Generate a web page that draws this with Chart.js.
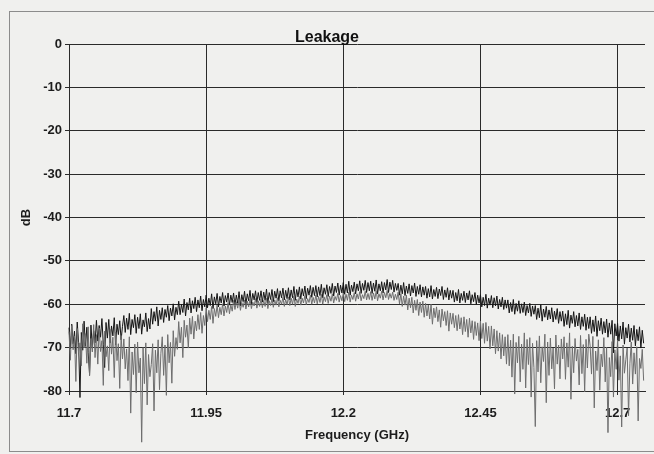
<!DOCTYPE html>
<html>
<head>
<meta charset="utf-8">
<script src="https://cdn.jsdelivr.net/npm/chart.js@4/dist/chart.umd.min.js"></script>
<style>
  html, body { margin: 0; padding: 0; background: #f0f0ee; }
  #wrap { width: 654px; height: 454px; }
</style>
</head>
<body>
<div id="wrap"><canvas id="chart" width="654" height="454"></canvas></div>
<script>
// sweep: 11.700 GHz upward in 2.5 MHz steps, one value per step (20 per row = 50 MHz)
const sweepStart = 11.7;
const sweepStep = 0.0025;

const freqTicks = [11.7, 11.95, 12.2, 12.45, 12.7];

// upper trace (dB)
const traceA = [
  -65.4, -70.3, -64.6, -69.1, -66.2, -71.4, -64.1, -68.8, -81.5, -66.5, -70.6, -63.9, -69.7, -65.3, -71.1, -76.2, -64.8, -70.0, -66.1, -68.9,
  -63.7, -68.5, -64.9, -67.6, -63.3, -69.2, -74.6, -64.2, -67.8, -63.5, -68.9, -65.0, -67.3, -63.1, -69.4, -64.6, -67.0, -63.8, -68.2, -65.1,
  -62.6, -66.5, -63.2, -65.8, -62.1, -67.0, -63.5, -65.4, -62.4, -66.7, -63.0, -65.6, -62.2, -66.9, -63.6, -65.2, -62.0, -66.3, -63.3, -65.7,
  -61.0, -64.6, -61.7, -63.9, -60.6, -65.0, -61.4, -63.5, -60.8, -64.2, -61.2, -63.0, -60.3, -63.8, -60.9, -62.7, -59.9, -63.6, -60.7, -62.4,
  -59.3, -62.4, -60.0, -61.9, -58.8, -62.7, -59.6, -61.3, -58.6, -62.0, -59.2, -61.0, -58.4, -61.7, -59.0, -60.8, -58.1, -61.5, -58.9, -60.6,
  -57.9, -60.8, -58.6, -60.3, -57.6, -61.0, -58.3, -59.9, -57.5, -60.6, -58.2, -59.7, -57.3, -60.4, -58.0, -59.5, -57.4, -60.2, -57.9, -59.6,
  -57.4, -60.2, -57.9, -59.8, -57.1, -60.4, -57.8, -59.4, -57.0, -60.0, -57.6, -59.2, -56.8, -59.9, -57.5, -59.0, -56.9, -59.6, -57.3, -59.1,
  -56.9, -59.5, -57.2, -59.1, -56.5, -59.8, -57.3, -58.9, -56.6, -59.4, -57.0, -58.6, -56.4, -59.2, -56.9, -58.5, -56.3, -59.0, -56.8, -58.7,
  -56.2, -59.0, -56.7, -58.5, -55.9, -59.1, -56.6, -58.3, -56.0, -58.8, -56.4, -58.1, -55.8, -58.7, -56.3, -57.9, -55.7, -58.4, -56.1, -58.0,
  -55.7, -58.3, -56.0, -58.0, -55.4, -58.5, -56.2, -57.7, -55.5, -58.2, -55.9, -57.5, -55.2, -58.1, -55.8, -57.3, -55.1, -57.9, -55.6, -57.4,
  -55.0, -57.7, -55.4, -57.4, -54.7, -57.9, -55.6, -57.1, -54.9, -57.6, -55.3, -56.9, -54.6, -57.5, -55.2, -56.8, -54.5, -57.3, -55.0, -56.9,
  -54.7, -57.5, -55.1, -57.0, -54.4, -57.6, -55.3, -56.9, -54.8, -57.4, -55.0, -56.7, -54.3, -57.3, -54.9, -56.6, -54.5, -57.2, -55.2, -56.8,
  -55.2, -57.9, -55.6, -57.6, -55.0, -58.0, -55.8, -57.5, -55.3, -58.1, -55.7, -57.4, -55.1, -58.2, -55.9, -57.7, -55.5, -58.3, -56.0, -57.9,
  -55.9, -58.6, -56.4, -58.3, -55.7, -58.8, -56.6, -58.2, -56.1, -58.7, -56.5, -58.0, -55.9, -58.9, -56.7, -58.4, -56.2, -59.0, -56.8, -58.6,
  -56.8, -59.5, -57.3, -59.2, -56.6, -59.7, -57.5, -59.1, -57.0, -59.6, -57.4, -59.0, -56.9, -59.9, -57.8, -59.4, -57.3, -60.0, -57.9, -59.7,
  -57.8, -60.6, -58.4, -60.3, -57.7, -60.9, -58.6, -60.2, -58.0, -60.8, -58.5, -60.4, -58.1, -61.1, -58.9, -60.6, -58.4, -61.2, -59.0, -60.9,
  -59.0, -62.0, -59.6, -61.7, -58.9, -62.3, -59.8, -61.6, -59.2, -62.1, -59.9, -61.9, -59.5, -62.6, -60.3, -62.0, -59.8, -62.8, -60.4, -62.3,
  -60.3, -63.5, -60.9, -63.1, -60.1, -63.9, -61.1, -63.0, -60.5, -63.6, -61.3, -63.4, -60.8, -64.1, -61.6, -63.5, -61.0, -64.4, -61.7, -63.9,
  -61.6, -65.1, -62.2, -64.7, -61.4, -65.5, -62.5, -64.4, -61.7, -65.2, -62.6, -65.0, -62.0, -65.8, -62.9, -65.1, -62.3, -66.0, -63.0, -65.6,
  -62.9, -66.7, -63.6, -66.3, -62.7, -67.4, -63.8, -66.1, -63.2, -66.9, -64.0, -66.6, -63.4, -67.6, -64.3, -66.9, -63.7, -71.2, -64.5, -67.3,
  -64.4, -68.5, -65.0, -68.0, -64.1, -69.2, -65.4, -67.8, -64.6, -68.7, -65.5, -68.3, -64.9, -69.6, -65.8, -68.4, -65.2, -70.1, -66.0, -69.0
];

// lower trace (dB)
const traceB = [
  -66.3, -72.9, -64.9, -70.5, -67.4, -77.8, -65.6, -71.3, -68.9, -74.2, -64.5, -70.1, -66.8, -73.6, -65.2, -76.5, -67.9, -71.0, -64.7, -72.3,
  -67.0, -73.8, -65.5, -70.9, -68.4, -78.7, -66.2, -72.1, -69.6, -75.3, -65.8, -71.5, -67.6, -76.9, -66.4, -73.0, -69.1, -79.4, -67.2, -72.6,
  -68.0, -74.9, -70.3, -77.6, -67.5, -85.1, -71.0, -76.2, -69.2, -80.4, -68.7, -75.8, -72.4, -91.8, -70.0, -78.3, -68.9, -83.2, -71.6, -76.7,
  -73.9, -69.1, -84.6, -70.6, -75.8, -68.2, -79.7, -71.3, -67.5, -76.4, -69.4, -81.0, -67.0, -73.5, -68.8, -78.2, -66.1, -72.0, -67.7, -70.4,
  -64.0, -68.9, -65.3, -72.3, -63.7, -67.6, -64.8, -70.1, -63.2, -66.9, -62.8, -68.0, -63.9, -66.1, -62.4, -65.8, -61.9, -66.7, -62.6, -64.9,
  -60.8, -64.0, -61.4, -63.5, -60.5, -64.4, -61.0, -62.8, -60.2, -63.1, -60.7, -62.4, -59.9, -62.7, -60.4, -61.9, -59.6, -62.2, -60.1, -61.6,
  -59.1, -61.2, -59.4, -60.9, -58.9, -61.4, -59.6, -60.7, -59.0, -61.1, -59.3, -60.6, -58.8, -61.0, -59.5, -60.4, -58.7, -60.9, -59.2, -60.5,
  -58.8, -60.8, -59.1, -60.5, -58.6, -61.0, -59.2, -60.3, -58.7, -60.7, -59.0, -60.2, -58.5, -60.6, -59.1, -60.0, -58.4, -60.5, -58.9, -60.1,
  -58.3, -60.3, -58.6, -60.0, -58.1, -60.5, -58.8, -59.8, -58.2, -60.2, -58.6, -59.7, -58.0, -60.1, -58.7, -59.6, -57.9, -60.0, -58.4, -59.7,
  -57.9, -59.9, -58.2, -59.6, -57.7, -60.0, -58.3, -59.4, -57.8, -59.8, -58.1, -59.3, -57.6, -59.7, -58.2, -59.1, -57.5, -59.5, -58.0, -59.2,
  -57.4, -59.4, -57.7, -59.1, -57.2, -59.5, -57.9, -58.9, -57.3, -59.3, -57.6, -58.8, -57.1, -59.2, -57.8, -58.7, -57.0, -59.0, -57.5, -58.9,
  -57.1, -59.1, -57.4, -58.8, -56.9, -59.2, -57.6, -58.6, -57.0, -59.0, -57.3, -58.5, -56.8, -58.9, -57.5, -58.6, -57.2, -59.1, -57.7, -58.9,
  -57.2, -59.9, -57.6, -60.5, -58.1, -60.2, -57.9, -61.3, -58.6, -60.8, -58.4, -62.0, -59.1, -61.4, -58.9, -62.6, -59.5, -61.9, -59.3, -63.0,
  -59.8, -62.7, -60.2, -63.4, -60.0, -64.6, -60.9, -63.1, -60.6, -64.0, -61.3, -65.3, -61.1, -63.8, -61.7, -64.9, -61.5, -66.2, -62.0, -64.6,
  -62.1, -65.4, -62.6, -66.1, -62.4, -65.7, -63.1, -67.0, -62.9, -66.3, -63.5, -67.6, -63.2, -66.6, -63.8, -68.1, -64.0, -67.2, -64.3, -68.4,
  -63.9, -67.9, -64.4, -69.0, -64.2, -68.5, -65.1, -70.3, -65.0, -69.6, -65.7, -71.4, -66.1, -70.8, -66.6, -72.6, -67.0, -71.9, -67.5, -73.8,
  -67.0, -74.2, -68.3, -76.8, -66.9, -80.7, -68.8, -73.5, -67.4, -77.9, -69.2, -75.0, -66.6, -79.3, -68.1, -73.9, -67.7, -81.4, -69.0, -74.6,
  -88.2, -68.4, -75.6, -67.3, -78.1, -69.8, -73.2, -66.9, -82.7, -68.7, -76.4, -67.8, -74.9, -70.1, -79.5, -67.1, -73.8, -69.4, -77.2, -68.0,
  -72.6, -67.5, -77.3, -68.9, -74.5, -66.6, -81.9, -69.7, -75.8, -67.9, -73.1, -70.4, -78.6, -67.2, -76.0, -69.3, -80.2, -68.1, -74.7, -66.9,
  -69.6, -76.1, -67.4, -83.9, -70.8, -75.3, -68.2, -79.8, -71.5, -74.4, -67.7, -77.9, -69.9, -89.6, -72.3, -76.7, -68.6, -81.4, -70.5, -75.0,
  -68.3, -77.5, -71.9, -88.3, -69.4, -75.9, -72.8, -70.1, -85.7, -73.6, -68.7, -78.4, -71.2, -76.1, -69.8, -86.9, -72.5, -74.8, -70.4, -77.6
];

function toPoints(values) {
  return values.map((v, i) => ({ x: +(sweepStart + i * sweepStep).toFixed(4), y: v }));
}

// page colour and the thin frame round the whole figure
const framePlugin = {
  id: 'frame',
  beforeDraw(chart) {
    const c = chart.ctx;
    c.save();
    c.fillStyle = '#f0f0ee';
    c.fillRect(0, 0, chart.width, chart.height);
    c.strokeStyle = '#8c8c8c';
    c.lineWidth = 1;
    c.strokeRect(9.5, 11.5, chart.width - 9, chart.height - 14);
    c.restore();
  }
};

const ink = '#1c1c1c';
const axisFont = { family: 'Liberation Sans, Arial, sans-serif', size: 13, weight: 'bold' };

new Chart(document.getElementById('chart'), {
  type: 'line',
  data: {
    datasets: [
      {
        label: 'B',
        data: toPoints(traceB),
        borderColor: '#6e6e6e',
        borderWidth: 1,
        pointRadius: 0,
        tension: 0,
        clip: false
      },
      {
        label: 'A',
        data: toPoints(traceA),
        borderColor: '#151515',
        borderWidth: 1,
        pointRadius: 0,
        tension: 0,
        clip: false
      }
    ]
  },
  options: {
    responsive: false,
    animation: false,
    layout: { padding: { left: 9, right: 9, top: 12, bottom: 2 } },
    plugins: {
      legend: { display: false },
      tooltip: { enabled: false },
      title: {
        display: true,
        text: 'Leakage',
        color: '#111',
        font: { family: 'Liberation Sans, Arial, sans-serif', size: 16, weight: 'bold', lineHeight: 1 },
        padding: { top: 18, bottom: -2 }
      }
    },
    scales: {
      x: {
        type: 'linear',
        min: 11.7,
        max: 12.75,
        afterBuildTicks(scale) {
          scale.ticks = freqTicks.map(v => ({ value: v }));
        },
        afterFit(scale) { scale.height = 61; },
        ticks: {
          color: ink,
          font: axisFont,
          padding: 11,
          maxRotation: 0,
          callback: v => String(v)
        },
        grid: { color: '#2a2a2a', lineWidth: 1, tickLength: 4 },
        border: { color: '#2a2a2a', width: 1 },
        title: {
          display: true,
          text: 'Frequency (GHz)',
          color: ink,
          font: axisFont,
          padding: { top: 0, bottom: 9 }
        }
      },
      y: {
        min: -80,
        max: 0,
        afterFit(scale) { scale.width = 60; },
        ticks: { stepSize: 10, color: ink, font: axisFont, padding: 3 },
        grid: { color: '#2a2a2a', lineWidth: 1, tickLength: 4 },
        border: { color: '#2a2a2a', width: 1 },
        title: {
          display: true,
          text: 'dB',
          color: ink,
          font: axisFont,
          padding: { top: 10, bottom: 0 }
        }
      }
    }
  },
  plugins: [framePlugin]
});
</script>
</body>
</html>
